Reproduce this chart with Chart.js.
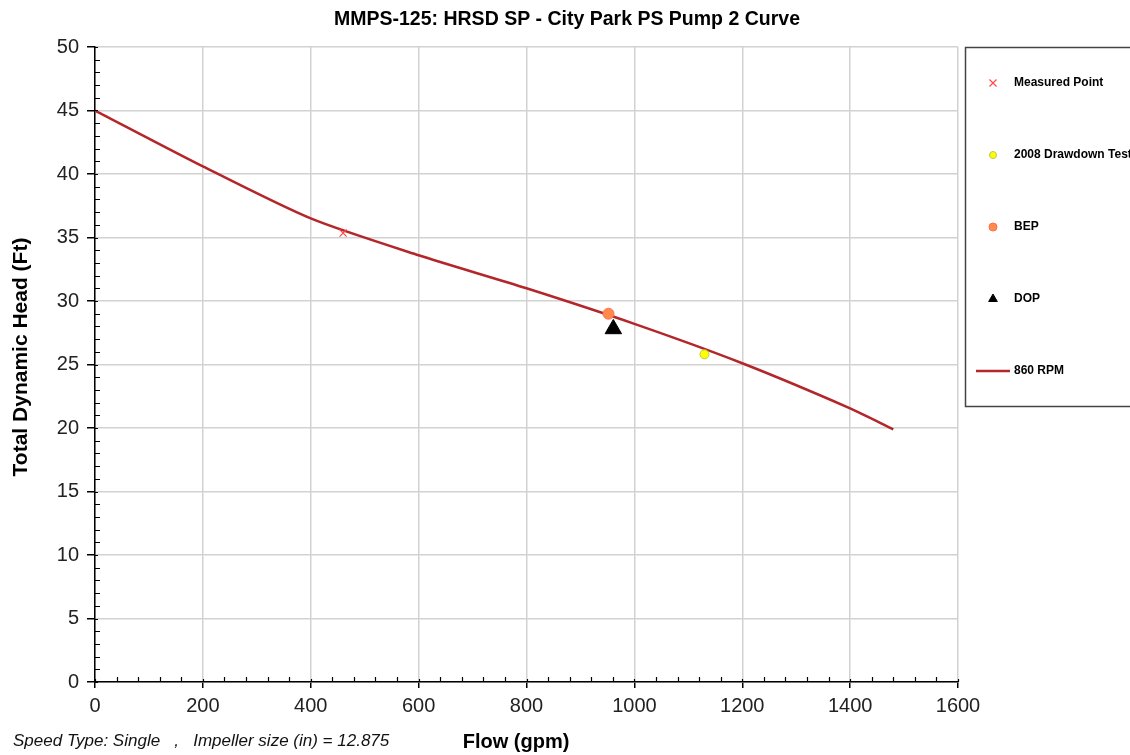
<!DOCTYPE html>
<html>
<head>
<meta charset="utf-8">
<title>MMPS-125 Pump 2 Curve</title>
<script src="https://cdn.jsdelivr.net/npm/chart.js@4.4.0/dist/chart.umd.min.js"></script>
<style>
    body { margin: 0; background: #fff; }
    #wrap { width: 1130px; height: 755px; }
</style>
</head>
<body>
<div id="wrap"><canvas id="pumpChart" width="1130" height="755"></canvas></div>
<script>
// Pump curve (860 RPM)
var curveFlow = [0, 200, 400, 600, 800, 1000, 1200, 1400, 1480];
var curveHead = [45, 40.6, 36.5, 33.6, 31.0, 28.2, 25.1, 21.55, 19.9];

// single points
var measuredFlow = [460];
var measuredHead = [35.35];
var drawdownFlow = [1130];
var drawdownHead = [25.8];
var bepFlow = [952];
var bepHead = [29.0];
var dopFlow = [961];
var dopHead = [27.8];

// axes
var xTicks = [0, 200, 400, 600, 800, 1000, 1200, 1400, 1600];
var yTicks = [0, 5, 10, 15, 20, 25, 30, 35, 40, 45, 50];

var titleText = 'MMPS-125: HRSD SP - City Park PS Pump 2 Curve';
var xTitle = 'Flow (gpm)';
var yTitle = 'Total Dynamic Head (Ft)';
var footText = 'Speed Type: Single   ,   Impeller size (in) = 12.875';

var FONT = "'Liberation Sans', Arial, sans-serif";

function toPoints(xs, ys) {
    return xs.map(function (x, i) { return { x: x, y: ys[i] }; });
}

// Titulos, leyenda y marcas menores
var extrasPlugin = {
    id: 'extras',
    afterDraw: function (chart) {
        var ctx = chart.ctx;
        var xs = chart.scales.x;
        var ys = chart.scales.y;
        var area = chart.chartArea;

        ctx.save();

        // minor ticks on x (every 40) and y (every 1)
        ctx.strokeStyle = '#000';
        ctx.lineWidth = 1.2;
        ctx.beginPath();
        for (var v = 0; v <= 1600; v += 40) {
            var px = Math.round(xs.getPixelForValue(v)) + 0.5;
            var len = (v % 200 === 0) ? 3 : 5;
            ctx.moveTo(px, area.bottom);
            ctx.lineTo(px, area.bottom - len);
        }
        for (var h = 0; h <= 50; h += 1) {
            var py = Math.round(ys.getPixelForValue(h)) + 0.5;
            var len2 = (h % 5 === 0) ? 3 : 5;
            ctx.moveTo(area.left, py);
            ctx.lineTo(area.left + len2, py);
        }
        ctx.stroke();

        // title
        ctx.fillStyle = '#000';
        ctx.textAlign = 'center';
        ctx.textBaseline = 'middle';
        ctx.font = 'bold 19.5px ' + FONT;
        ctx.fillText(titleText, 567, 20);

        // x title
        ctx.font = 'bold 20px ' + FONT;
        ctx.fillText(xTitle, 516, 742);

        // y title
        ctx.save();
        ctx.translate(21, 357);
        ctx.rotate(-Math.PI / 2);
        ctx.font = 'bold 21px ' + FONT;
        ctx.fillText(yTitle, 0, 0);
        ctx.restore();

        // footnote
        ctx.font = 'italic 17px ' + FONT;
        ctx.textAlign = 'left';
        ctx.fillStyle = '#111';
        ctx.fillText(footText, 13, 741);

        // legend box
        ctx.strokeStyle = '#444';
        ctx.lineWidth = 1.5;
        ctx.strokeRect(965.5, 47.5, 200, 359);

        var itemY = [83, 155, 227, 299, 371];
        ctx.font = 'bold 12px ' + FONT;
        chart.data.datasets.forEach(function (ds, i) {
            var y = itemY[i];
            if (ds.showLine) {
                ctx.strokeStyle = ds.borderColor;
                ctx.lineWidth = ds.borderWidth;
                ctx.beginPath();
                ctx.moveTo(976, y);
                ctx.lineTo(1010, y);
                ctx.stroke();
            } else {
                ctx.fillStyle = ds.pointBackgroundColor;
                ctx.strokeStyle = ds.pointBorderColor;
                ctx.lineWidth = ds.pointBorderWidth;
                Chart.helpers.drawPoint(ctx, {
                    pointStyle: ds.pointStyle,
                    radius: ds.legendRadius,
                    rotation: 0,
                    borderWidth: ds.pointBorderWidth
                }, 993, y);
            }
            ctx.fillStyle = '#000';
            ctx.textAlign = 'left';
            ctx.fillText(ds.label, 1014, y);
        });

        ctx.restore();
    }
};

var ctx = document.getElementById('pumpChart').getContext('2d');
var pumpChart = new Chart(ctx, {
    type: 'scatter',
    data: {
        datasets: [{
            label: 'Measured Point',
            data: toPoints(measuredFlow, measuredHead),
            pointStyle: 'crossRot',
            pointRadius: 5,
            legendRadius: 5,
            pointBorderColor: '#ff4a4a',
            pointBackgroundColor: '#ff4a4a',
            pointBorderWidth: 1.2
        }, {
            label: '2008 Drawdown Test',
            data: toPoints(drawdownFlow, drawdownHead),
            pointStyle: 'circle',
            pointRadius: 4.5,
            legendRadius: 3.5,
            pointBorderColor: '#b9c84a',
            pointBackgroundColor: '#ffff00',
            pointBorderWidth: 1
        }, {
            label: 'BEP',
            data: toPoints(bepFlow, bepHead),
            pointStyle: 'circle',
            pointRadius: 5.5,
            legendRadius: 4,
            pointBorderColor: '#ff6f4f',
            pointBackgroundColor: '#ff8a4a',
            pointBorderWidth: 1
        }, {
            label: 'DOP',
            data: toPoints(dopFlow, dopHead),
            pointStyle: 'triangle',
            pointRadius: 9.5,
            legendRadius: 5,
            pointBorderColor: '#000',
            pointBackgroundColor: '#000',
            pointBorderWidth: 1
        }, {
            label: '860 RPM',
            data: toPoints(curveFlow, curveHead),
            showLine: true,
            borderColor: '#b3262a',
            borderWidth: 2.5,
            pointRadius: 0,
            tension: 0.25
        }]
    },
    options: {
        responsive: false,
        animation: false,
        layout: { padding: { left: 0, right: 172, top: 47, bottom: 0 } },
        plugins: {
            legend: { display: false },
            title: { display: false },
            tooltip: { enabled: false }
        },
        scales: {
            x: {
                type: 'linear',
                min: 0,
                max: 1600,
                afterFit: function (scale) { scale.height = 73; },
                afterBuildTicks: function (scale) {
                    scale.ticks = xTicks.map(function (v) { return { value: v }; });
                },
                grid: { color: '#d2d2d2', lineWidth: 1.5, tickColor: '#000', tickLength: 6 },
                border: { color: '#000', width: 1.5 },
                ticks: {
                    color: '#222',
                    padding: 6,
                    font: { family: FONT, size: 20 },
                    callback: function (value) { return String(value); }
                }
            },
            y: {
                type: 'linear',
                min: 0,
                max: 50,
                afterFit: function (scale) { scale.width = 95; },
                afterBuildTicks: function (scale) {
                    scale.ticks = yTicks.map(function (v) { return { value: v }; });
                },
                grid: { color: '#d2d2d2', lineWidth: 1.5, tickColor: '#000', tickLength: 8 },
                border: { color: '#000', width: 1.5 },
                ticks: {
                    color: '#222',
                    padding: 8,
                    font: { family: FONT, size: 20 },
                    callback: function (value) { return String(value); }
                }
            }
        }
    },
    plugins: [extrasPlugin]
});
</script>
</body>
</html>
